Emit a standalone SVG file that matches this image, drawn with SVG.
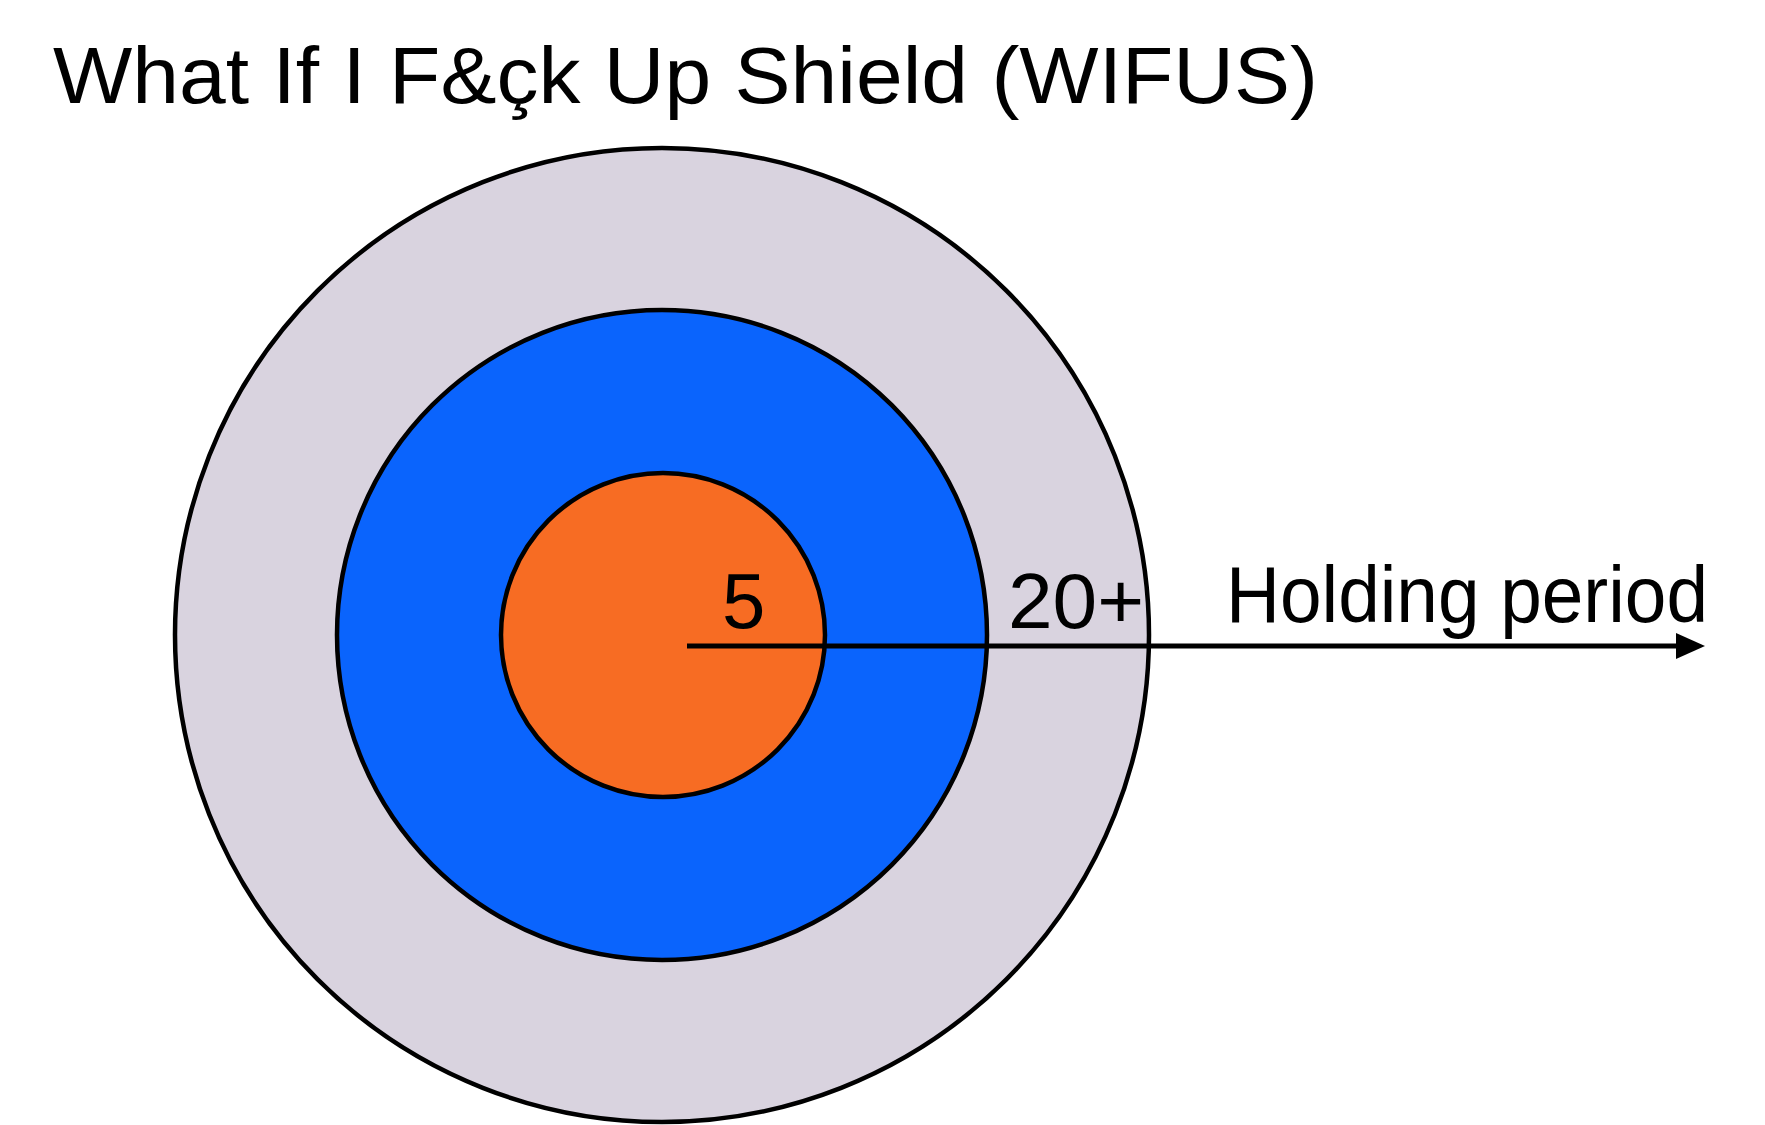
<svg xmlns="http://www.w3.org/2000/svg" width="1765" height="1125" viewBox="0 0 1765 1125">
<style>
.ring{stroke:#000;stroke-width:4.5}
.t{font-family:"Liberation Sans",Arial,sans-serif;fill:#000}
</style>
<rect width="1765" height="1125" fill="#fff"/>
<text class="t" x="53" y="103" font-size="80" textLength="1265" lengthAdjust="spacingAndGlyphs">What If I F&amp;çk Up Shield (WIFUS)</text>
<g id="outer"><circle class="ring" cx="662" cy="635" r="487" fill="#d9d3df"/></g>
<g id="middle"><circle class="ring" cx="662" cy="635" r="325" fill="#0a64fd"/></g>
<g id="inner"><circle class="ring" cx="663" cy="635" r="162" fill="#f76c23"/></g>
<g id="connectors">
<line x1="687" y1="646" x2="1678" y2="646" stroke="#000" stroke-width="5"/>
<polygon points="1676,633 1705,646 1676,659" fill="#000"/>
</g>
<g id="labels">
<text class="t" x="722" y="628" font-size="78">5</text>
<text class="t" x="1008" y="628" font-size="78" textLength="136" lengthAdjust="spacingAndGlyphs">20+</text>
<text class="t" x="1226" y="622" font-size="80" textLength="482" lengthAdjust="spacingAndGlyphs">Holding period</text>
</g>
</svg>
